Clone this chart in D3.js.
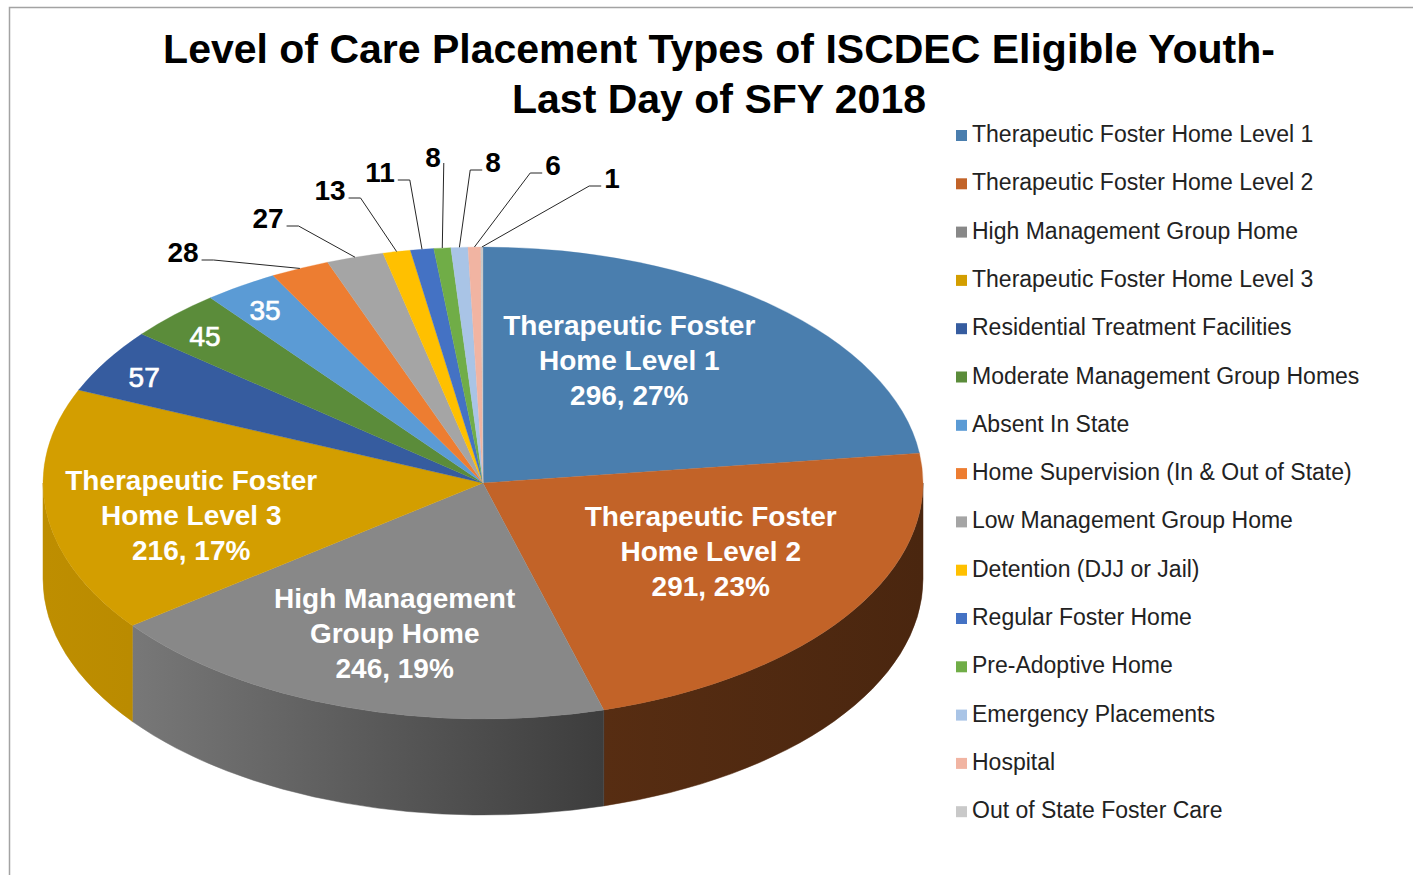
<!DOCTYPE html>
<html>
<head>
<meta charset="utf-8">
<script src="https://cdn.jsdelivr.net/npm/d3@7"></script>
<style>
  body { margin: 0; background: #fff; }
  svg { display: block; font-family: "Liberation Sans", Arial, sans-serif; }
</style>
</head>
<body>
<svg id="chart" width="1413" height="875"></svg>
<script>
const categories = [
  "Therapeutic Foster Home Level 1",
  "Therapeutic Foster Home Level 2",
  "High Management Group Home",
  "Therapeutic Foster Home Level 3",
  "Residential Treatment Facilities",
  "Moderate Management Group Homes",
  "Absent In State",
  "Home Supervision (In & Out of State)",
  "Low Management Group Home",
  "Detention (DJJ or Jail)",
  "Regular Foster Home",
  "Pre-Adoptive Home",
  "Emergency Placements",
  "Hospital",
  "Out of State Foster Care"
];
const counts = [296, 291, 246, 216, 57, 45, 35, 28, 27, 13, 11, 8, 8, 6, 1];
const colors = [
  "#4a7eae", "#c26328", "#888888", "#d39e00", "#365c9f", "#5b8c3a",
  "#5b9bd5", "#ed7d31", "#a5a5a5", "#ffc000", "#4472c4", "#70ad47",
  "#a9c4e6", "#f1b4a2", "#c9c9c9"
];
// the four big slices carry name + value + percent, as printed on the chart
const bigLabelLines = [
  ["Therapeutic Foster", "Home Level 1"],
  ["Therapeutic Foster", "Home Level 2"],
  ["High Management", "Group Home"],
  ["Therapeutic Foster", "Home Level 3"]
];
const bigLabelPct = ["27%", "23%", "19%", "17%"];

// layout
const cx = 483, cy = 483, rx = 440, ry = 236, depth = 96;
const bigNudge = [[-34, -13], [0, -13], [-2, 11], [-21, 14]];
// text centres of the small labels placed outside the pie (slices 8..15)
const outsidePos = [[183, 252], [268, 218], [330, 190], [380, 172],
                    [433, 157], [493, 162], [553, 165], [612, 178]];

const svg = d3.select("#chart");
const defs = svg.append("defs");

// chart frame (only top + left edges are visible in the crop)
svg.append("rect")
  .attr("x", 9.5).attr("y", 7.5)
  .attr("width", 2000).attr("height", 2000)
  .attr("fill", "none")
  .attr("stroke", "#a3a3a3")
  .attr("stroke-width", 1.5);

// title
svg.append("text")
  .attr("x", 719).attr("y", 63)
  .attr("text-anchor", "middle")
  .attr("font-size", 41).attr("font-weight", "bold")
  .text("Level of Care Placement Types of ISCDEC Eligible Youth-");
svg.append("text")
  .attr("x", 719).attr("y", 113)
  .attr("text-anchor", "middle")
  .attr("font-size", 41).attr("font-weight", "bold")
  .text("Last Day of SFY 2018");

const pie = d3.pie().sort(null).value(d => d);
const arcs = pie(counts);

function pt(a, f = 1) {
  return [cx + rx * f * Math.sin(a), cy - ry * f * Math.cos(a)];
}

function shade(c, k) {
  const r = d3.rgb(c);
  return d3.rgb(r.r * k, r.g * k, r.b * k).formatHex();
}

// side walls of the 3D pie (only the front half, angles 90..270 deg)
const sideStops = [[0, 0.9], [0.1, 0.88], [0.636, 0.45], [1, 0.38]];
const sides = svg.append("g");
arcs.forEach((d, i) => {
  const a0 = Math.max(d.startAngle, Math.PI / 2);
  const a1 = Math.min(d.endAngle, 3 * Math.PI / 2);
  if (a1 <= a0) return;

  const grad = defs.append("linearGradient")
    .attr("id", "side" + i)
    .attr("gradientUnits", "userSpaceOnUse")
    .attr("x1", cx - rx).attr("x2", cx + rx)
    .attr("y1", 0).attr("y2", 0);
  sideStops.forEach(s => {
    grad.append("stop").attr("offset", s[0]).attr("stop-color", shade(colors[i], s[1]));
  });

  const p0 = pt(a0), p1 = pt(a1);
  const path = `M${p0[0]},${p0[1]}` +
    `A${rx},${ry} 0 0 1 ${p1[0]},${p1[1]}` +
    `L${p1[0]},${p1[1] + depth}` +
    `A${rx},${ry} 0 0 0 ${p0[0]},${p0[1] + depth}Z`;
  sides.append("path")
    .attr("d", path)
    .attr("fill", `url(#side${i})`)
    .attr("stroke", `url(#side${i})`)
    .attr("stroke-width", 0.5);
});

// top surface: circular arcs squashed into the ellipse
const arc = d3.arc().innerRadius(0).outerRadius(rx);
svg.append("g")
  .attr("transform", `translate(${cx},${cy}) scale(1,${ry / rx})`)
  .selectAll("path")
  .data(arcs)
  .join("path")
  .attr("d", arc)
  .attr("fill", (d, i) => colors[i])
  .attr("stroke", (d, i) => colors[i])
  .attr("stroke-width", 0.4);

const mid = d => (d.startAngle + d.endAngle) / 2;

// big labels
const labels = svg.append("g").attr("fill", "#fff").attr("font-weight", "bold").attr("font-size", 28);
bigLabelLines.forEach((lines, i) => {
  const p = pt(mid(arcs[i]), 0.62);
  const x = p[0] + bigNudge[i][0], y = p[1] + bigNudge[i][1];
  const rows = [...lines, `${counts[i]}, ${bigLabelPct[i]}`];
  rows.forEach((t, j) => {
    labels.append("text")
      .attr("x", x)
      .attr("y", y + (j - 1) * 35 + 10)
      .attr("text-anchor", "middle")
      .text(t);
  });
});

// value-only labels inside the medium slices
[4, 5, 6].forEach(i => {
  const p = pt(mid(arcs[i]), 0.9);
  svg.append("text")
    .attr("x", p[0]).attr("y", p[1] + 14)
    .attr("text-anchor", "middle")
    .attr("font-size", 28)
    .attr("fill", "#fff")
    .attr("stroke", "#fff")
    .attr("stroke-width", 0.7)
    .text(counts[i]);
});

// outside labels with leader lines
const leaders = svg.append("g").attr("fill", "none").attr("stroke", "#262626").attr("stroke-width", 1);
outsidePos.forEach((pos, k) => {
  const i = k + 7;
  const anchor = pt(mid(arcs[i]));
  const t = svg.append("text")
    .attr("x", pos[0]).attr("y", pos[1] + 10)
    .attr("text-anchor", "middle")
    .attr("font-size", 28)
    .attr("font-weight", "bold")
    .attr("fill", "#000")
    .text(counts[i]);
  const hw = t.node().getComputedTextLength() / 2;
  const dx = anchor[0] - pos[0];
  let pts;
  if (Math.abs(dx) < 15) {
    pts = [[pos[0] + hw + 3, pos[1] + 6], anchor];
  } else {
    const side = dx > 0 ? 1 : -1;
    const sx = pos[0] + side * (hw + 3), sy = pos[1] + 8;
    pts = [[sx, sy], [sx + side * 12, sy], anchor];
  }
  leaders.append("path").attr("d", d3.line()(pts));
});

// legend
const legend = svg.append("g").attr("font-size", 23).attr("fill", "#222");
categories.forEach((name, i) => {
  const y0 = 134 + i * 48.3;
  legend.append("rect")
    .attr("x", 956).attr("y", y0 - 4)
    .attr("width", 11).attr("height", 11)
    .attr("fill", colors[i]);
  legend.append("text")
    .attr("x", 972).attr("y", y0 + 8)
    .text(name);
});
</script>
</body>
</html>
